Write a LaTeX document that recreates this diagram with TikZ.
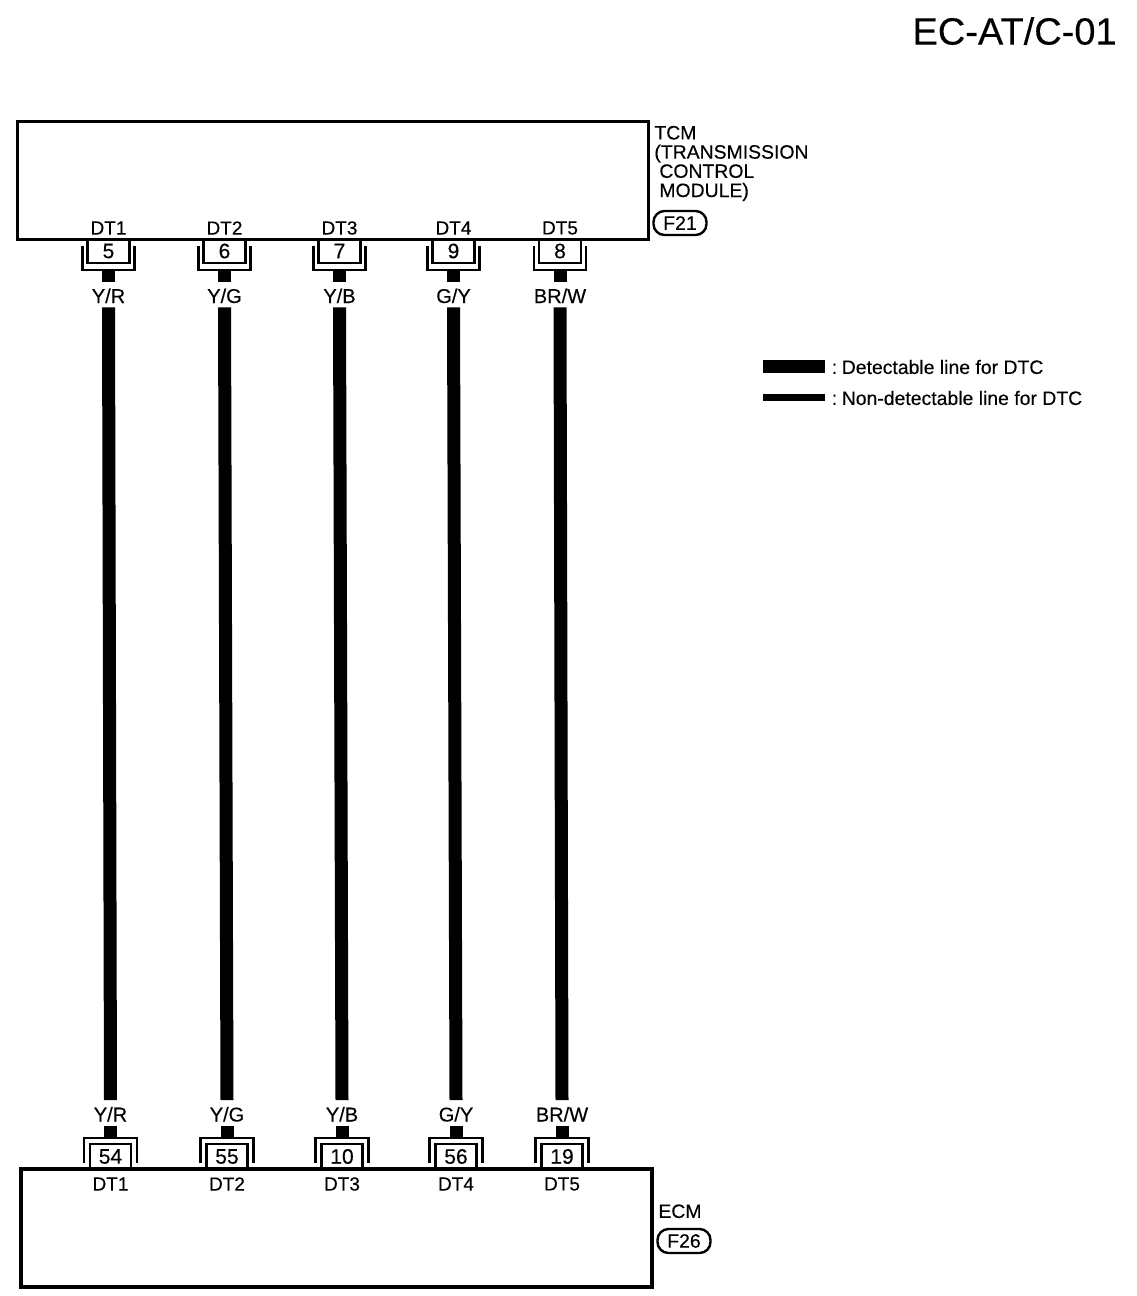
\documentclass[tikz,border=0pt]{standalone}
\usepackage{fontspec}
\setmainfont{Liberation Sans}[FakeBold=0.25]
\tikzset{
  unitbox/.style={draw, line width=1.6pt, inner sep=0pt},
  pinbox/.style={draw, line width=1.2pt, inner sep=0pt, font=\fontsize{10.5}{10.5}\selectfont},
  cup/.style={line width=1.3pt},
  wire/.style={line width=6.5pt},
  thinwire/.style={line width=3.5pt},
  wirelabel/.style={inner sep=0pt, text height=10.5pt, text depth=2pt, font=\fontsize{10}{10}\selectfont},
  dtlabel/.style={inner sep=0pt, font=\fontsize{9.5}{9.5}\selectfont},
  sidelabel/.style={inner sep=0pt, align=left, anchor=north west, font=\fontsize{9.7}{9.6}\selectfont},
  harness/.style={draw, line width=1.2pt, rounded corners=5.5pt, inner sep=0pt, minimum width=26.5pt, minimum height=12pt, font=\fontsize{9.7}{9.7}\selectfont},
  keylabel/.style={inner sep=0pt, anchor=west, font=\fontsize{9.7}{9.7}\selectfont}
}
\begin{document}
\begin{tikzpicture}[x=.5pt, y=-.5pt]
\useasboundingbox (0,0) rectangle (1136,1296);

\node[inner sep=0pt, anchor=east, font=\fontsize{19}{19}\selectfont] (title) at (1117,31) {EC-AT/C-01};

% the two units
\node[unitbox, line width=1.5pt, minimum width=315.5pt, minimum height=59pt] (tcm) at (332.5,180) {};
\node[unitbox, minimum width=315.5pt, minimum height=59pt] (ecm) at (336.5,1228) {};

\node[sidelabel] (tcmtext) at (654,125.5) {TCM\\(TRANSMISSION\\\hspace{2.5pt}CONTROL\\\hspace{2.5pt}MODULE)};
\node[harness] (f21) at (680,223) {F21};
\node[sidelabel] (ecmtext) at (658,1204) {ECM};
\node[harness] (f26) at (684,1241) {F26};

% top connectors
\foreach \n/\x/\pin/\col in {1/108.5/5/Y\slash R, 2/224.5/6/Y\slash G, 3/339.5/7/Y\slash B, 4/453.5/9/G\slash Y, 5/560/8/BR\slash W}{
  \node[dtlabel] (dta\n) at (\x,228) {DT\n};
  \node[pinbox, minimum width=21pt, minimum height=12pt] (pina\n) at (\x,251) {\pin};
  \coordinate (cupa\n) at (\x,270);
  \draw[cup] (cupa\n) ++(-26,-24) -- ++(0,24) -- ++(52,0) -- ++(0,-24);
  \node[wirelabel] (cola\n) at (\x,294.5) {\col};
  \draw[wire] (cupa\n) -- (cola\n.north);
}

% bottom connectors
\foreach \n/\x/\pin/\col in {1/110.5/54/Y\slash R, 2/227/55/Y\slash G, 3/342/10/Y\slash B, 4/456/56/G\slash Y, 5/562/19/BR\slash W}{
  \node[dtlabel] (dtb\n) at (\x,1184) {DT\n};
  \node[pinbox, minimum width=20.5pt, minimum height=12.5pt] (pinb\n) at (\x,1156.5) {\pin};
  \coordinate (cupb\n) at (\x,1138);
  \draw[cup] (cupb\n) ++(-26.5,25) -- ++(0,-25) -- ++(53,0) -- ++(0,25);
  \node[wirelabel] (colb\n) at (\x,1113) {\col};
  \draw[wire] (colb\n.south) -- (cupb\n);
  \draw[wire] (cola\n.south) -- (colb\n.north);
}

% key
\coordinate (keya) at (763,366.5);
\coordinate (keyb) at (763,397);
\node[keylabel] (keytexta) at (825,367) {\hspace{3.2pt}:\hspace{2.3pt}Detectable line for DTC};
\node[keylabel] (keytextb) at (825,398) {\hspace{3.2pt}:\hspace{2.3pt}Non-detectable line for DTC};
\draw[wire] (keya) -- (keya -| keytexta.west);
\draw[thinwire] (keyb) -- (keyb -| keytextb.west);
\end{tikzpicture}
\end{document}
